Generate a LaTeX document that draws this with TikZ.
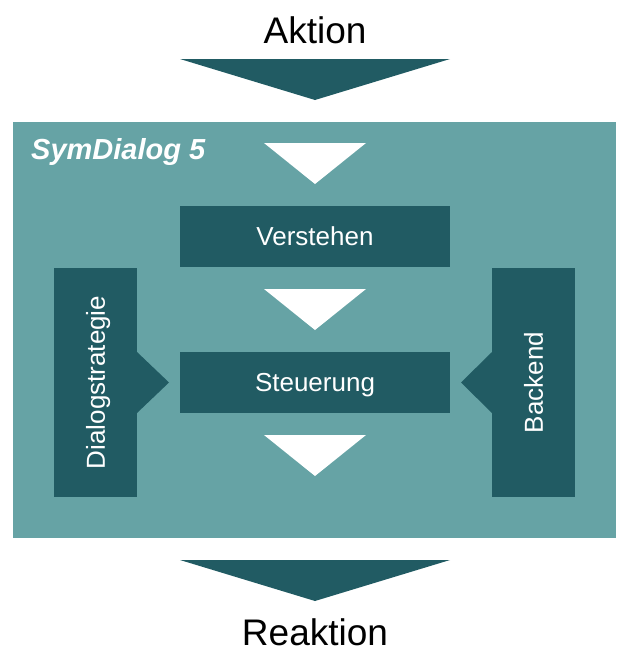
\documentclass[tikz,border=0pt]{standalone}
\usepackage{fontspec}
\setmainfont{Liberation Sans}
\usetikzlibrary{positioning}
\colorlet{background}{white}
\definecolor{darkTeal}{HTML}{215B63}
\definecolor{lightTeal}{HTML}{66A3A5}
\tikzset{
  block/.style={fill=darkTeal,text=white,inner sep=0pt,text height=18.6pt,text depth=0pt,font=\fontsize{26}{30}\selectfont},
  bigtext/.style={text=black,inner sep=0pt,font=\fontsize{37}{42}\selectfont}
}

\begin{document}
\begin{tikzpicture}[x=1pt,y=-1pt]
  \useasboundingbox (0,0) rectangle (616,648);
  % outer frame
  \fill[lightTeal] (13,122) rectangle (616,538);
  \node[anchor=base west,text=white,inner sep=0pt,font=\fontsize{29}{33}\selectfont\bfseries\itshape] (title) at (31,159) {SymDialog 5};

  % Aktion / Reaktion
  \node[bigtext] (aktion) at (315,30) {Aktion};
  \fill[darkTeal] (180,59) -- (450,59) -- (315,100) -- cycle;
  \fill[darkTeal] (180,560) -- (450,560) -- (315,601) -- cycle;
  \node[bigtext] (reaktion) at (315,632) {Reaktion};

  % inner blocks
  \node[block,minimum width=270pt,minimum height=61pt] (verstehen) at (315,236.5) {Verstehen};
  \node[block,minimum width=270pt,minimum height=61pt] (steuerung) at (315,382.5) {Steuerung};
  \node[block,rotate=90,minimum width=229pt,minimum height=83pt] (strategie) at (95.5,382.5) {Dialogstrategie};
  \node[block,rotate=90,minimum width=229pt,minimum height=83pt] (backend) at (533.5,382.5) {Backend};

  % white arrows
  \fill[white] (264,143) -- (366,143) -- (315,184) -- cycle;
  \fill[white] (264,289) -- (366,289) -- (315,330) -- cycle;
  \fill[white] (264,435) -- (366,435) -- (315,476) -- cycle;

  % side arrows
  \fill[darkTeal] (137,352) -- (169,382.5) -- (137,413) -- cycle;
  \fill[darkTeal] (492,352) -- (461,382.5) -- (492,413) -- cycle;
\end{tikzpicture}
\end{document}
